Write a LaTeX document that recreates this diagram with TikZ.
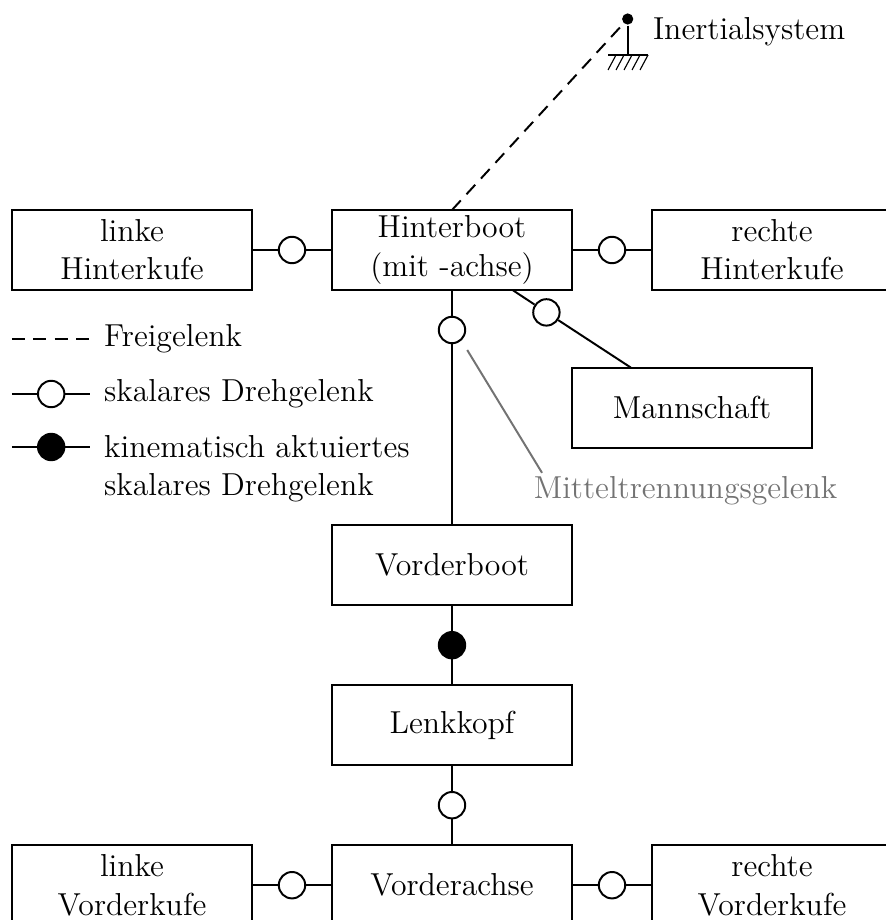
\documentclass[tikz,border=0pt,11pt]{standalone}
\usetikzlibrary{positioning,calc}
\definecolor{notegray}{gray}{0.45}
\begin{document}
\begin{tikzpicture}[node distance=1cm, line width=0.7pt,
    font=\fontsize{11.3pt}{13.6pt}\selectfont,
    body/.style={draw, minimum width=3cm, minimum height=1cm, inner sep=1pt, outer sep=0pt, align=center},
    joint/.style={draw, circle, fill=white, minimum size=0.33cm, inner sep=0pt},
    actjoint/.style={joint, fill=black},
    free/.style={dash pattern=on 4.6pt off 3pt},
    legend/.style={anchor=west, inner sep=0pt, align=left}]
    \useasboundingbox (0,0) rectangle (11.0625,-11.5);
    % Koerper
    \node[body] (hb) at (5.65,-3.125) {Hinterboot\\(mit -achse)};
    \node[body] (lhk) [left=of hb] {linke\\Hinterkufe};
    \node[body] (rhk) [right=of hb] {rechte\\Hinterkufe};
    \node[body] (ms) at (8.65,-5.095) {Mannschaft};
    \node[body] (vb) [below=2.94cm of hb] {Vorderboot};
    \node[body] (lk) [below=of vb] {Lenkkopf};
    \node[body] (va) [below=of lk] {Vorderachse};
    \node[body] (lvk) [left=of va] {linke\\Vorderkufe};
    \node[body] (rvk) [right=of va] {rechte\\Vorderkufe};

    % Gelenke
    \node[joint] (j1) at ($(lhk.east)!0.5!(hb.west)$) {};
    \node[joint] (j2) at ($(hb.east)!0.5!(rhk.west)$) {};
    \node[joint] (j3) at ($(hb.south)+(0,-0.5)$) {};
    \node[joint] (jm) at (6.83,-3.905) {};
    \node[actjoint] (j4) at ($(vb.south)!0.5!(lk.north)$) {};
    \node[joint] (j5) at ($(lk.south)!0.5!(va.north)$) {};
    \node[joint] (j6) at ($(lvk.east)!0.5!(va.west)$) {};
    \node[joint] (j7) at ($(va.east)!0.5!(rvk.west)$) {};

    % Inertialsystem
    \node[fill, circle, inner sep=0pt, minimum size=0.14cm] (is) at (7.846,-0.2375) {};
    \coordinate (isg) at (7.846,-0.6875);
    \draw (is) -- (isg);
    \draw (7.6,-0.6875) -- (8.1,-0.6875);
    \foreach \i in {0,...,4}
        \draw[line width=0.4pt] (7.6+0.1*\i,-0.875) -- (7.7+0.1*\i,-0.6875);
    \node[legend] (istxt) at (8.15,-0.4) {Inertialsystem};

    % Verbindungen
    \draw[free] (hb.north) -- (is);
    \draw (lhk) -- (j1) -- (hb);
    \draw (hb) -- (j2) -- (rhk);
    \draw (hb) -- (j3) -- (vb);
    \draw (hb) -- (jm) -- (ms);
    \draw (vb) -- (j4) -- (lk);
    \draw (lk) -- (j5) -- (va);
    \draw (lvk) -- (j6) -- (va);
    \draw (va) -- (j7) -- (rvk);

    % Mitteltrennung
    \node[text=notegray, anchor=base, inner sep=0pt] (mtg) at (8.57,-6.225) {Mitteltrennungsgelenk};
    \coordinate (mtga) at (5.84,-4.375);
    \coordinate (mtgb) at (6.775,-5.91);
    \draw[notegray] (mtga) -- (mtgb);

    % Legende
    \coordinate (l1a) at (0.15,-4.24);
    \coordinate (l1b) at (1.125,-4.24);
    \draw[free] (l1a) -- (l1b);
    \node[legend] (lfree) at (1.29,-4.24) {Freigelenk};
    \coordinate (l2a) at (0.15,-4.925);
    \coordinate (l2b) at (1.125,-4.925);
    \node[joint] (lj) at (0.64,-4.925) {};
    \draw (l2a) -- (lj) -- (l2b);
    \node[legend] (lrev) at (1.29,-4.925) {skalares Drehgelenk};
    \coordinate (l3a) at (0.15,-5.5875);
    \coordinate (l3b) at (1.125,-5.5875);
    \node[actjoint] (laj) at (0.64,-5.5875) {};
    \draw (l3a) -- (laj) -- (l3b);
    \node[legend] (lact) at (1.29,-5.856) {kinematisch aktuiertes\\skalares Drehgelenk};
\end{tikzpicture}
\end{document}
